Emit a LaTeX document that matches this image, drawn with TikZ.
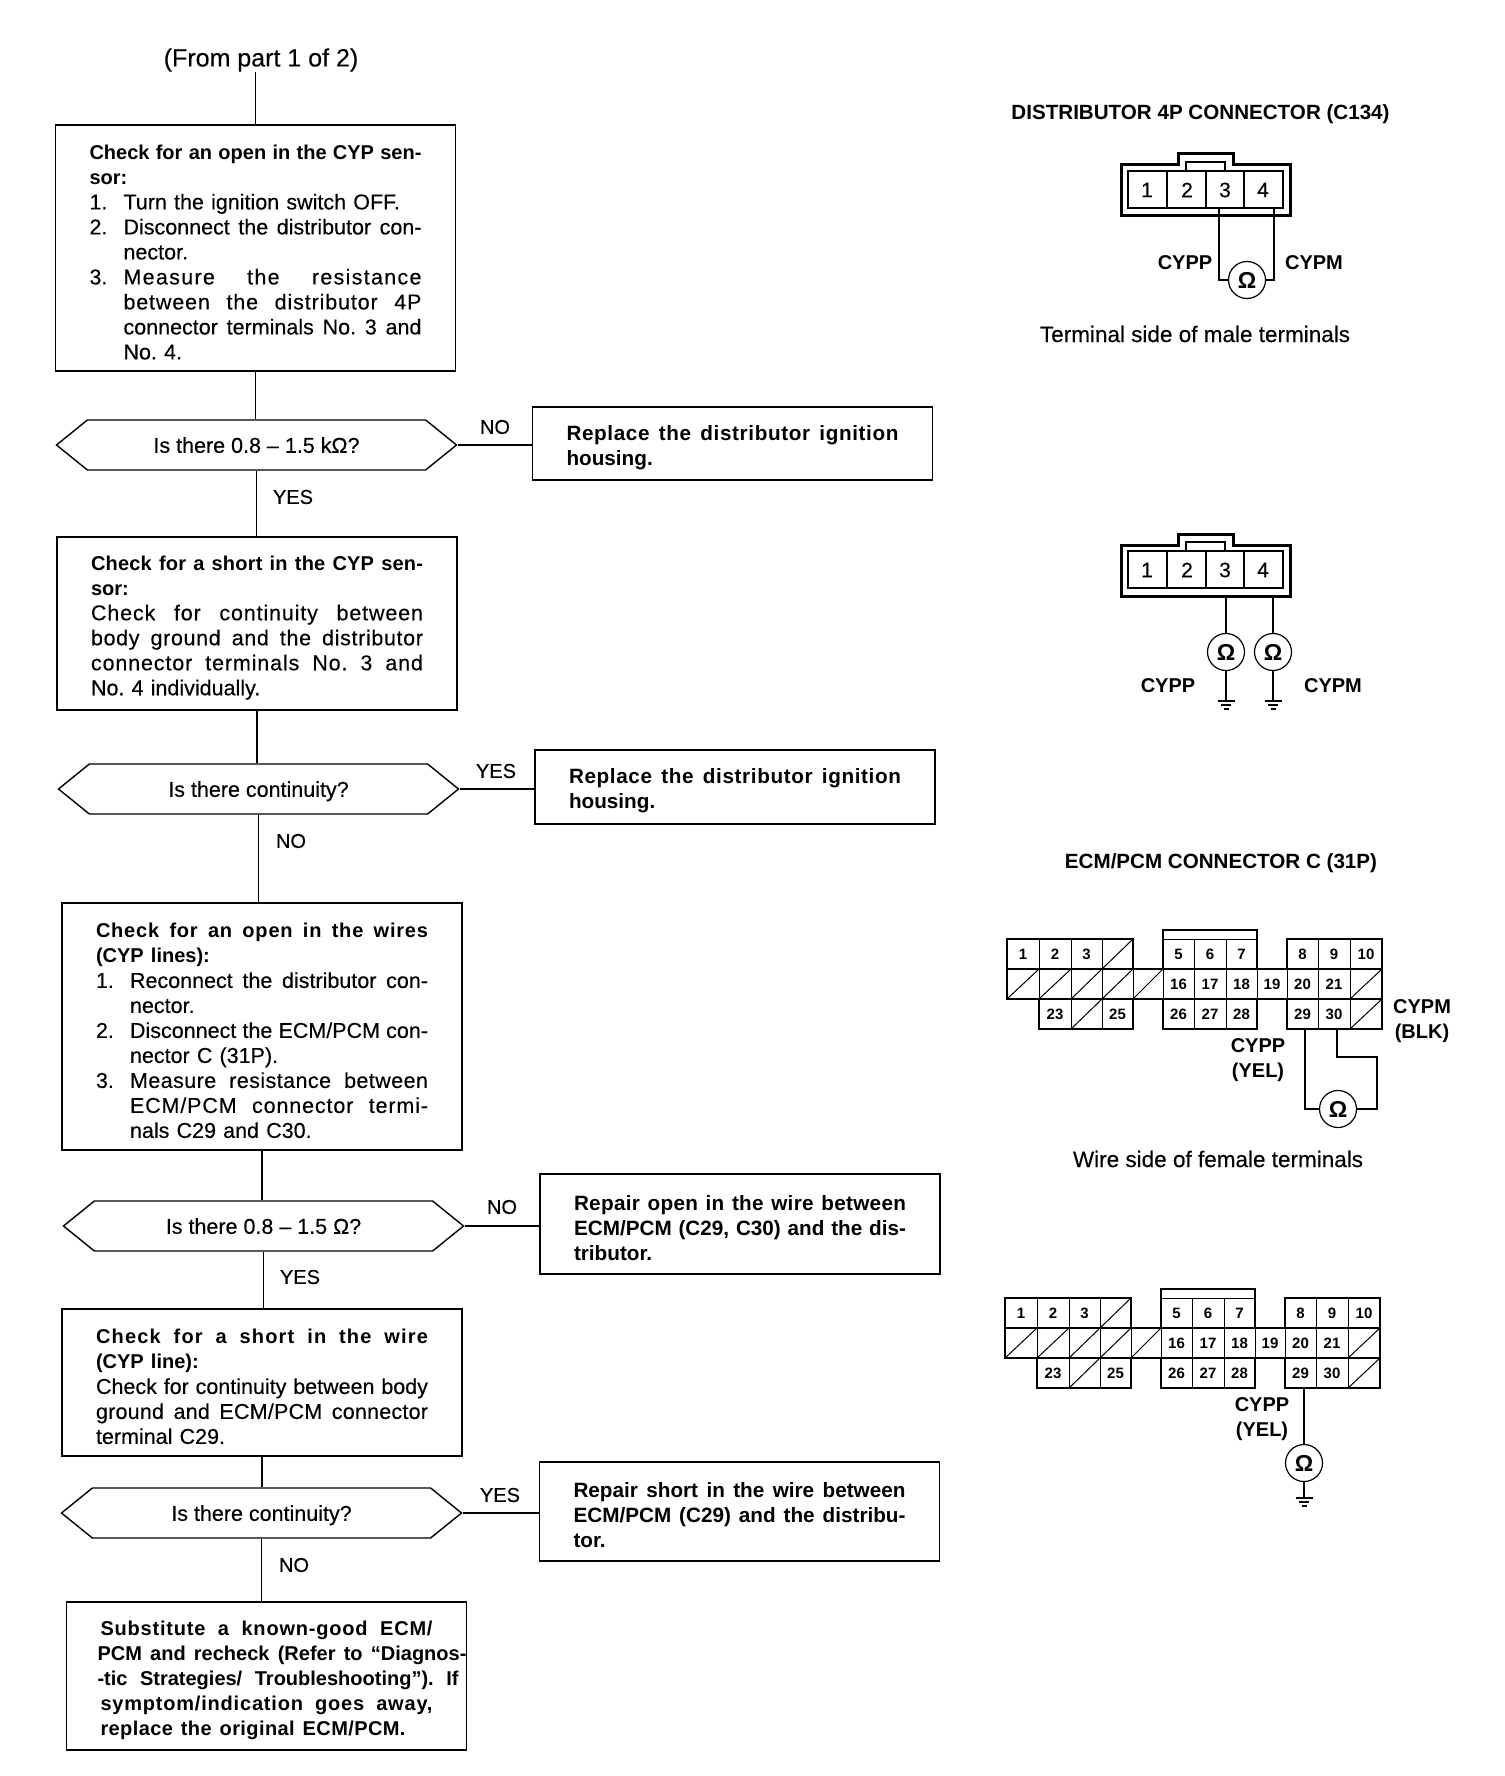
\documentclass[tikz,border=0pt]{standalone}
\usepackage{fontspec}
\setmainfont[UprightFeatures={FakeBold=0.25}]{Liberation Sans}
\usetikzlibrary{positioning,shapes.symbols}
\AtBeginDocument{\frenchspacing}
\newcommand{\headfont}{\fontsize{20}{25}\selectfont\bfseries}
\newcommand{\stretchline}[2]{\leavevmode\hbox to #1{\spaceskip=.28em plus 1fil minus .08em\relax #2}}
\newcommand{\fullline}[1]{\stretchline{332pt}{#1}}
\newcommand{\wideline}[2]{\fullline{\addfontfeature{LetterSpace=#1}#2}}
\newcommand{\numline}[2]{\makebox[34pt][l]{#1}#2}
\newcommand{\numfull}[2]{\makebox[34pt][l]{#1}\stretchline{298pt}{#2}}
\newcommand{\gndsym}[1]{%
  \draw[wire] ([xshift=-8.5pt]#1) -- ([xshift=8.5pt]#1);
  \draw[wire] ([xshift=-5pt,yshift=-4pt]#1) -- ([xshift=5pt,yshift=-4pt]#1);
  \draw[wire] ([xshift=-2.5pt,yshift=-8pt]#1) -- ([xshift=2.5pt,yshift=-8pt]#1);}
\tikzset{
  stepbox/.style={draw, line width=1.6pt, inner xsep=34pt, inner ysep=0pt, text width=332pt, align=left, font=\fontsize{21.5}{25}\selectfont, execute at begin node={\rule{0pt}{23pt}}},
  fixbox/.style={stepbox, font=\fontsize{20.7}{25}\selectfont\bfseries},
  askbox/.style={draw, line width=1.4pt, shape=signal, signal to=west and east, signal pointer angle=78, minimum width=400pt, minimum height=50pt, inner sep=0pt, text height=18pt, text depth=2.4pt, font=\fontsize{21.5}{25}\selectfont},
  reply/.style={inner sep=0pt, font=\fontsize{20}{25}\selectfont},
  heading/.style={inner sep=0pt, font=\fontsize{20.6}{25}\selectfont\bfseries},
  wirelabel/.style={inner sep=0pt, align=center, font=\fontsize{20}{25}\selectfont\bfseries},
  caption/.style={inner sep=0pt, font=\fontsize{22.5}{25}\selectfont},
  pin/.style={inner sep=0pt, font=\fontsize{21}{25}\selectfont},
  cavity/.style={inner sep=0pt, font=\fontsize{15}{18}\selectfont\bfseries},
  meter/.style={draw, circle, line width=1.2pt, minimum size=37pt, inner sep=0pt, font=\fontsize{23}{25}\selectfont\bfseries},
  wire/.style={line width=1.4pt},
  flow/.style={line width=1.5pt},
}
\begin{document}
\begin{tikzpicture}[x=1pt,y=-1pt]
\useasboundingbox (0,0) rectangle (1504,1776);
% Flow chart, left column
\node[reply, font=\fontsize{25}{25}\selectfont] (start) at (261,60) {(From part 1 of 2)};
\node[stepbox, minimum height=246pt] (openbox) at (255.5,248) {%
  \fullline{\headfont Check for an open in the CYP sen-}\\
  {\headfont sor:}\\
  \numline{1.}{Turn the ignition switch OFF.}\\
  \numfull{2.}{Disconnect the distributor con-}\\
  \numline{}{nector.}\\
  \numfull{3.}{\addfontfeature{LetterSpace=6}Measure the resistance}\\
  \numfull{}{\addfontfeature{LetterSpace=4}between the distributor 4P}\\
  \numfull{}{connector terminals No. 3 and}\\
  \numline{}{No. 4.}};
\node[askbox] (askohm) at (256.5,445) {Is there 0.8 -- 1.5 kΩ?};
\node[stepbox, minimum height=173pt] (shortbox) at (257,623.5) {%
  \wideline{1}{\headfont Check for a short in the CYP sen-}\\
  {\headfont sor:}\\
  \wideline{4}{Check for continuity between}\\
  \wideline{3}{body ground and the distributor}\\
  \wideline{4}{connector terminals No. 3 and}\\
  No. 4 individually.};
\node[askbox] (askcont) at (258.5,789) {Is there continuity?};
\node[stepbox, minimum height=247pt] (wirebox) at (262,1026.5) {%
  \fullline{\headfont\addfontfeature{LetterSpace=4}Check for an open in the wires}\\
  {\headfont (CYP lines):}\\
  \numfull{1.}{Reconnect the distributor con-}\\
  \numline{}{nector.}\\
  \numfull{2.}{Disconnect the ECM/PCM con-}\\
  \numline{}{nector C (31P).}\\
  \numfull{3.}{\addfontfeature{LetterSpace=2}Measure resistance between}\\
  \numfull{}{\addfontfeature{LetterSpace=4}ECM/PCM connector termi-}\\
  \numline{}{nals C29 and C30.}};
\node[askbox] (asklow) at (263.5,1226) {Is there 0.8 -- 1.5 Ω?};
\node[stepbox, minimum height=147pt] (linebox) at (262,1382.5) {%
  \fullline{\headfont\addfontfeature{LetterSpace=6}Check for a short in the wire}\\
  {\headfont (CYP line):}\\
  \fullline{Check for continuity between body}\\
  \wideline{1}{ground and ECM/PCM connector}\\
  terminal C29.};
\node[askbox] (asklast) at (261.5,1513) {Is there continuity?};
\node[stepbox, minimum height=148pt, font=\headfont] (ecmbox) at (266.5,1676) {%
  \wideline{4}{Substitute a known-good ECM/}\\
  \hspace*{-3pt}\stretchline{369pt}{PCM and recheck (Refer to ``Diagnos-}\\
  \hspace*{-3pt}\stretchline{361pt}{-tic Strategies/ Troubleshooting''). If}\\
  \wideline{4}{symptom/indication goes away,}\\
  \stretchline{305pt}{\addfontfeature{LetterSpace=2}replace the original ECM/PCM.}};
% Right hand boxes
\node[fixbox, minimum height=73pt] (housea) at (732.5,443.5) {%
  \wideline{3}{Replace the distributor ignition}\\ housing.};
\node[fixbox, minimum height=74pt] (houseb) at (735,787) {%
  \wideline{3}{Replace the distributor ignition}\\ housing.};
\node[fixbox, minimum height=100pt] (repopen) at (740,1224) {%
  \wideline{1.5}{Repair open in the wire between}\\
  \fullline{ECM/PCM (C29, C30) and the dis-}\\ tributor.};
\node[fixbox, minimum height=99pt] (repshort) at (739.5,1511.5) {%
  \fullline{Repair short in the wire between}\\
  \fullline{ECM/PCM (C29) and the distribu-}\\ tor.};
% Answers
\node[reply] (noa) at (495,427) {NO};
\node[reply] (yesa) at (293,497) {YES};
\node[reply] (yesb) at (496,771) {YES};
\node[reply] (nob) at (291,841) {NO};
\node[reply] (noc) at (502,1207) {NO};
\node[reply] (yesc) at (300,1277) {YES};
\node[reply] (yesd) at (500,1495) {YES};
\node[reply] (nod) at (294,1565) {NO};
% Connectors
\draw[flow] (openbox.north) -- (openbox.north |- start.south);
\draw[flow] (openbox.south) -- (openbox.south |- askohm.north);
\draw[flow] (askohm.south) -- (askohm.south |- shortbox.north);
\draw[flow] (shortbox.south) -- (shortbox.south |- askcont.north);
\draw[flow] (askcont.south) -- (askcont.south |- wirebox.north);
\draw[flow] (wirebox.south) -- (wirebox.south |- asklow.north);
\draw[flow] (asklow.south) -- (asklow.south |- linebox.north);
\draw[flow] (linebox.south) -- (linebox.south |- asklast.north);
\draw[flow] (asklast.south) -- (asklast.south |- ecmbox.north);
\draw[flow] (askohm.east) -- (askohm.east -| housea.west);
\draw[flow] (askcont.east) -- (askcont.east -| houseb.west);
\draw[flow] (asklow.east) -- (asklow.east -| repopen.west);
\draw[flow] (asklast.east) -- (asklast.east -| repshort.west);
% Distributor connector, twice
\node[heading] (distitle) at (1200.5,114) {DISTRIBUTOR 4P CONNECTOR (C134)};
\foreach \dy/\tag in {0/a,380/b} {
  \draw[line width=3pt] (1121,165+\dy) -- (1178,165+\dy) -- (1178,154+\dy) -- (1233,154+\dy) -- (1233,165+\dy) -- (1290,165+\dy) -- (1290,216+\dy) -- (1121,216+\dy) -- cycle;
  \draw[line width=1.3pt] (1128,171+\dy) rectangle (1283,208+\dy);
  \draw[line width=1.3pt] (1186,171+\dy) -- (1186,162+\dy) -- (1225,162+\dy) -- (1225,171+\dy);
  \foreach \x in {1167,1206,1244} {\draw[line width=1.3pt] (\x,171+\dy) -- (\x,208+\dy);}
  \foreach \x/\lab in {1147/1,1187/2,1225/3,1263/4} {\node[pin] (pin\tag\lab) at (\x,190+\dy) {\lab};}
}
\node[meter] (ohma) at (1247,280) {Ω};
\coordinate (tapp) at (1219,208);
\coordinate (tapm) at (1274,208);
\draw[wire] (tapp) |- (ohma.west);
\draw[wire] (tapm) |- (ohma.east);
\node[wirelabel] (cyppa) at (1185,263) {CYPP};
\node[wirelabel] (cypma) at (1314,263) {CYPM};
\node[caption] (termcap) at (1195,334) {Terminal side of male terminals};
\node[meter] (ohmb) at (1226,652) {Ω};
\node[meter] (ohmc) at (1273,652) {Ω};
\coordinate (tapb) at (1226,597);
\coordinate (tapc) at (1273,597);
\coordinate (gndb) at (1226,701);
\coordinate (gndc) at (1273,701);
\draw[wire] (tapb) -- (ohmb.north);
\draw[wire] (tapc) -- (ohmc.north);
\draw[wire] (ohmb.south) -- (gndb);
\draw[wire] (ohmc.south) -- (gndc);
\gndsym{gndb}
\gndsym{gndc}
\node[wirelabel] (cyppb) at (1168,686) {CYPP};
\node[wirelabel] (cypmb) at (1333,686) {CYPM};
% ECM/PCM connector, twice
\node[heading] (ecmtitle) at (1221,863) {ECM/PCM CONNECTOR C (31P)};
\foreach \dx/\dy/\tag in {0/0/a,-2/359/b} {
\begin{scope}[shift={(\dx,\dy)}]
  \draw[line width=2.3pt] (1007,939) -- (1133,939) -- (1133,969) -- (1163,969) -- (1163,930) -- (1257,930) -- (1257,969) -- (1287,969) -- (1287,939) -- (1382,939) -- (1382,1029) -- (1287,1029) -- (1287,999) -- (1257,999) -- (1257,1029) -- (1163,1029) -- (1163,999) -- (1133,999) -- (1133,1029) -- (1039,1029) -- (1039,999) -- (1007,999) -- cycle;
  \draw[line width=1.8pt] (1007,969) -- (1382,969) (1007,999) -- (1382,999);
  \draw[line width=1pt] (1163,939) -- (1257,939);
  \foreach \x/\ya/\yb in {1039/939/999,1071/939/1029,1102/939/1029,1133/969/999,1163/969/999,1194/939/1029,1226/939/1029,1257/969/999,1287/969/999,1318/939/1029,1350/939/1029} {\draw[line width=1pt] (\x,\ya) -- (\x,\yb);}
  % blocked cavities
  \foreach \xa/\xb/\ya/\yb in {1102/1133/939/969,1007/1039/969/999,1039/1071/969/999,1071/1102/969/999,1102/1133/969/999,1133/1163/969/999,1350/1382/969/999,1071/1102/999/1029,1350/1382/999/1029} {\draw[line width=1pt] (\xa,\yb) -- (\xb,\ya);}
  \foreach \x/\lab in {1023/1,1055/2,1086.5/3,1178.5/5,1210/6,1241.5/7,1302.5/8,1334/9,1366/10} {\node[cavity] (cav\tag\lab) at (\x,954) {\lab};}
  \foreach \x/\lab in {1178.5/16,1210/17,1241.5/18,1272/19,1302.5/20,1334/21} {\node[cavity] (cav\tag\lab) at (\x,984) {\lab};}
  \foreach \x/\lab in {1055/23,1117.5/25,1178.5/26,1210/27,1241.5/28,1302.5/29,1334/30} {\node[cavity] (cav\tag\lab) at (\x,1014) {\lab};}
\end{scope}
}
\node[meter] (ohmd) at (1338,1109) {Ω};
\coordinate (tapd) at (1305,1029);
\coordinate (tapf) at (1337,1029);
\coordinate (bendf) at (1377,1057);
\draw[line width=1.1pt] (tapd) |- (ohmd.west);
\draw[line width=1.1pt] (tapf) |- (bendf) |- (ohmd.east);
\node[wirelabel] (cyppd) at (1258,1060) {CYPP\\(YEL)};
\node[wirelabel] (cypmd) at (1422,1021) {CYPM\\(BLK)};
\node[caption] (wirecap) at (1218,1159) {Wire side of female terminals};
\node[meter] (ohme) at (1304,1463) {Ω};
\coordinate (tape) at (1304,1388);
\coordinate (gnde) at (1304,1498);
\draw[wire] (tape) -- (ohme.north);
\draw[wire] (ohme.south) -- (gnde);
\gndsym{gnde}
\node[wirelabel] (cyppe) at (1262,1419) {CYPP\\(YEL)};
\end{tikzpicture}
\end{document}
